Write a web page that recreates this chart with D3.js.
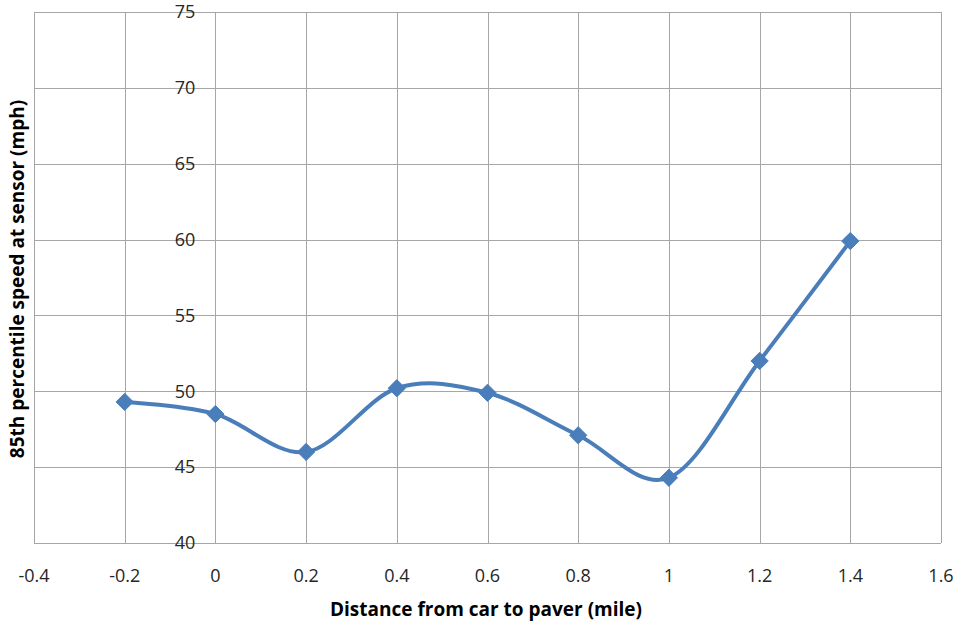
<!DOCTYPE html>
<html>
<head>
<meta charset="utf-8">
<script src="https://cdn.jsdelivr.net/npm/d3@7"></script>
<style>
  html, body { margin: 0; padding: 0; background: #fff; }
  svg { display: block; }
</style>
</head>
<body>
<svg id="chart" width="958" height="628"></svg>
<script>
const distances = [-0.2, 0, 0.2, 0.4, 0.6, 0.8, 1.0, 1.2, 1.4];
const speeds = [49.3, 48.5, 46.0, 50.2, 49.9, 47.1, 44.3, 52.0, 59.9];
const xTicks = [-0.4, -0.2, 0, 0.2, 0.4, 0.6, 0.8, 1, 1.2, 1.4, 1.6];
const yTicks = [40, 45, 50, 55, 60, 65, 70, 75];
const xTitle = "Distance from car to paver (mile)";
const yTitle = "85th percentile speed at sensor (mph)";

(function () {
const svg = d3.select("#chart");
const pLeft = 34, pRight = 941, pTop = 12, pBottom = 543;

const x = d3.scaleLinear().domain([-0.4, 1.6]).range([pLeft, pRight]);
const y = d3.scaleLinear().domain([40, 75]).range([pBottom, pTop]);

const gridColor = "#a6a6a6";
const font = "'Open Sans', 'Liberation Sans', sans-serif";

// gridlines
svg.append("g").selectAll("line").data(xTicks).join("line")
  .attr("x1", d => Math.round(x(d)) + 0.5).attr("x2", d => Math.round(x(d)) + 0.5)
  .attr("y1", pTop).attr("y2", pBottom)
  .attr("stroke", gridColor).attr("stroke-width", 1);
svg.append("g").selectAll("line").data(yTicks).join("line")
  .attr("x1", pLeft).attr("x2", pRight)
  .attr("y1", d => Math.round(y(d)) + 0.5).attr("y2", d => Math.round(y(d)) + 0.5)
  .attr("stroke", gridColor).attr("stroke-width", 1);

// y tick labels (next to the axis at x = 0)
svg.append("g").selectAll("text").data(yTicks).join("text")
  .attr("x", x(0) - 20).attr("y", d => y(d))
  .attr("dy", "0.35em")
  .attr("text-anchor", "end")
  .attr("font-family", font).attr("font-size", 18)
  .attr("fill", "#262626")
  .text(d => d);

// x tick labels
svg.append("g").selectAll("text").data(xTicks).join("text")
  .attr("x", d => x(d)).attr("y", 576)
  .attr("dy", "0.35em")
  .attr("text-anchor", "middle")
  .attr("font-family", font).attr("font-size", 18)
  .attr("fill", "#262626")
  .text(d => d);

// axis titles
svg.append("text")
  .attr("x", 486).attr("y", 609).attr("dy", "0.35em")
  .attr("text-anchor", "middle")
  .attr("font-family", font).attr("font-size", 19).attr("font-weight", "bold")
  .attr("fill", "#000")
  .text(xTitle);
svg.append("text")
  .attr("transform", "translate(17,279) rotate(-90)")
  .attr("dy", "0.35em")
  .attr("text-anchor", "middle")
  .attr("font-family", font).attr("font-size", 19).attr("font-weight", "bold")
  .attr("fill", "#000")
  .text(yTitle);

// series
const pts = distances.map((d, i) => [d, speeds[i]]);
const line = d3.line()
  .x(d => x(d[0])).y(d => y(d[1]))
  .curve(d3.curveCardinal.tension(0));
const blue = "#4a7ebb";
svg.append("path").datum(pts)
  .attr("d", line)
  .attr("fill", "none")
  .attr("stroke", blue)
  .attr("stroke-width", 4)
  .attr("stroke-linejoin", "round")
  .attr("stroke-linecap", "round");

const diamond = d3.symbol().type(d3.symbolDiamond2).size(190);
svg.append("g").selectAll("path").data(pts).join("path")
  .attr("transform", d => `translate(${x(d[0])},${y(d[1])})`)
  .attr("d", diamond)
  .attr("fill", blue)
  .attr("stroke", blue).attr("stroke-width", 1);
})();
</script>
</body>
</html>
